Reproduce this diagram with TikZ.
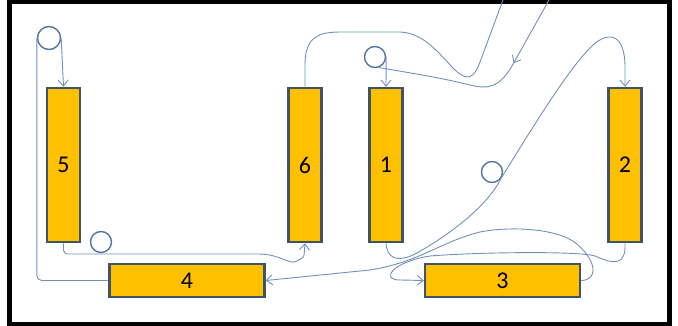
\documentclass[tikz,border=0pt]{standalone}
\usepackage{fontspec}
\setmainfont{Carlito}
\usepackage{tikz}
\usetikzlibrary{arrows.meta,decorations.markings}
\definecolor{boxfill}{HTML}{FFC000}
\definecolor{boxline}{HTML}{405468}
\definecolor{beltcol}{HTML}{7090BE}
\definecolor{rollcol}{HTML}{5373A6}

\begin{document}
\begin{tikzpicture}[x=1pt, y=-1pt,
	upright/.style={rectangle, draw=boxline, fill=boxfill, line width=2.5pt, minimum width=33pt, minimum height=154pt, inner sep=0pt, font=\fontsize{24}{27}\selectfont},
	flat/.style={upright, minimum width=155pt, minimum height=33pt},
	roll/.style={circle, draw=rollcol, line width=1.4pt, minimum size=21pt, inner sep=0pt},
	belt/.style={draw=beltcol, line width=0.9pt},
	barb/.style={-{Straight Barb[length=6pt, width=10pt]}},
	midbarb/.style={decoration={markings, mark=at position #1 with {\arrow{Straight Barb[length=6pt, width=10pt]}}}, postaction=decorate}]
	\useasboundingbox (0,0) rectangle (678,326);
	\draw[line width=4.5pt] (9.5,1.5) rectangle (669.5,324);
	
	\node[upright] at (63.5,165) (b5) {5};
	\node[upright] at (305,165) (b6) {6};
	\node[upright] at (386,165) (b1) {1};
	\node[upright] at (625,165) (b2) {2};
	\node[flat] at (187,280.5) (b4) {4};
	\node[flat] at (502.5,280.5) (b3) {3};
	
	\node[roll, minimum size=23pt] at (49,38) (r5) {};
	\node[roll] at (101,242) (r6) {};
	\node[roll] at (375,57) (r1) {};
	\node[roll] at (492,172) (r2) {};
	
	\coordinate (in) at (549,0);
	\coordinate (out) at (503,0);
	
	\draw[belt, midbarb=0.33] (in) -- (512,66) .. controls (500,86) and (490,90) .. (470,85) .. controls (440,78) .. (r1.-70);
	\draw[belt, barb] (r1.east) -- (b1.north);
	\draw[belt, barb] (b1.south) .. controls (387,258) and (397,263) .. (415,254) .. controls (450,235) and (488,205) .. (r2.-40) .. controls (540,115) and (570,68) .. (590,48) .. controls (605,32) and (624,30) .. (625,65) -- (b2.north);
	\draw[belt, barb] (b2.south) .. controls (626,265) and (615,265) .. (595,256) .. controls (580,251) and (480,252) .. (430,256) .. controls (392,262) and (380,280) .. (400,280) -- (b3.west);
	\draw[belt, barb] (b3.east) .. controls (598,280) and (597,262) .. (578,245) .. controls (560,228) and (510,226) .. (480,232) .. controls (440,242) and (420,262) .. (370,270) -- (b4.east);
	\draw[belt, rounded corners=5pt] (b4.west) -| (r5.west);
	\draw[belt, barb] (r5.east) -- (b5.north);
	\draw[belt, barb, rounded corners=4pt] (b5.south) |- (262,254) .. controls (280,256) and (290,264) .. (299,260) .. controls (304,257) .. (b6.south);
	\draw[belt] (b6.north) -- (305,65) .. controls (305,40) and (315,32) .. (340,32) -- (400,32) .. controls (425,33) and (440,55) .. (455,70) .. controls (468,82) and (474,78) .. (480,62) -- (out);
\end{tikzpicture}
\end{document}
